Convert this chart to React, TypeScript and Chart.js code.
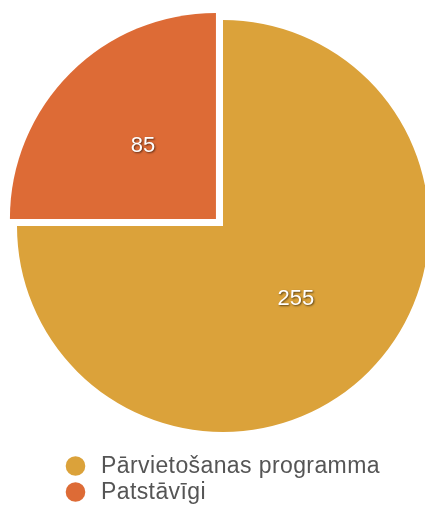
import React, { useEffect, useRef } from "react";
import { Chart, registerables } from "chart.js";

Chart.register(...registerables);

const labels = ["Pārvietošanas programma", "Patstāvīgi"];
const values = [255, 85];
const colors = ["#DBA23A", "#DD6B36"];
const sliceOffsets = [0, 40];

const FONT = '"Liberation Sans", Arial, Helvetica, sans-serif';

const valueLabelsPlugin = {
  id: "valueLabels",
  afterDatasetsDraw(chart: any) {
    const ctx = chart.ctx;
    const meta = chart.getDatasetMeta(0);
    ctx.save();
    ctx.font = `22px ${FONT}`;
    ctx.textAlign = "center";
    ctx.textBaseline = "middle";
    ctx.fillStyle = "#ffffff";
    ctx.shadowColor = "rgba(0,0,0,0.6)";
    ctx.shadowBlur = 2;
    ctx.shadowOffsetX = 1;
    ctx.shadowOffsetY = 1;
    meta.data.forEach((arc: any, i: number) => {
      const { x, y, startAngle, endAngle, outerRadius } = arc.getProps(
        ["x", "y", "startAngle", "endAngle", "outerRadius"],
        false
      );
      const off = (arc.options.offset || 0) / 4;
      const half = (startAngle + endAngle) / 2;
      const r = outerRadius / 2 + off;
      ctx.fillText(String(values[i]), x + Math.cos(half) * r, y + Math.sin(half) * r);
    });
    ctx.restore();
  },
};

const legendPlugin = {
  id: "customLegend",
  afterDraw(chart: any) {
    const ctx = chart.ctx;
    const area = chart.chartArea;
    const x0 = 75.5;
    const rowY = [area.bottom + 14, area.bottom + 40];
    ctx.save();
    labels.forEach((lab, i) => {
      ctx.beginPath();
      ctx.fillStyle = colors[i];
      ctx.arc(x0, rowY[i], 9.8, 0, Math.PI * 2);
      ctx.fill();
      ctx.font = `23px ${FONT}`;
      (ctx as any).letterSpacing = "0.4px";
      ctx.fillStyle = "#555555";
      ctx.textAlign = "left";
      ctx.textBaseline = "middle";
      ctx.fillText(lab, 101, rowY[i] + 1);
    });
    ctx.restore();
  },
};

export default function App() {
  const ref = useRef<HTMLCanvasElement | null>(null);
  useEffect(() => {
    if (!ref.current) return;
    const chart = new Chart(ref.current, {
      type: "pie",
      data: {
        labels,
        datasets: [
          {
            data: values,
            backgroundColor: colors,
            borderWidth: 0,
            offset: sliceOffsets,
            clip: false,
          } as any,
        ],
      },
      options: {
        responsive: false,
        animation: false,
        radius: 206,
        layout: { padding: { left: 21, right: 0, top: 0, bottom: 56 } },
        plugins: {
          legend: { display: false },
          tooltip: { enabled: false },
        },
      } as any,
      plugins: [valueLabelsPlugin, legendPlugin],
    });
    return () => chart.destroy();
  }, []);
  return (
    <div style={{ position: "absolute", left: 0, top: 0, width: 425, height: 508, background: "#fff" }}>
      <canvas ref={ref} width={425} height={508} style={{ display: "block" }} />
    </div>
  );
}
